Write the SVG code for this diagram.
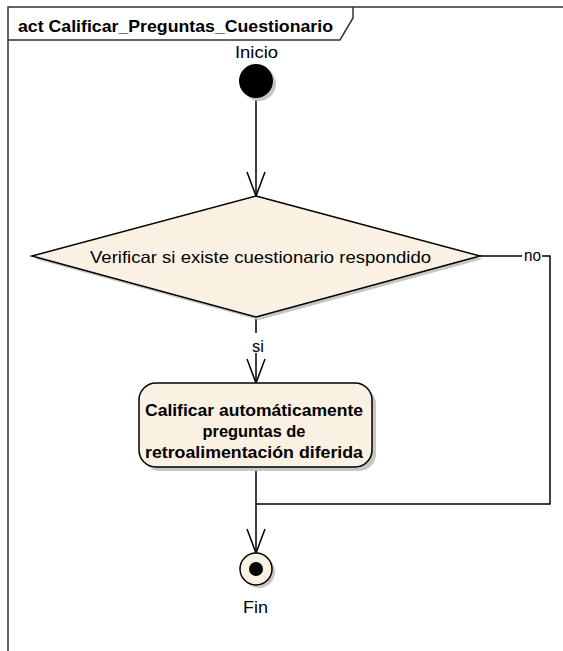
<svg xmlns="http://www.w3.org/2000/svg" width="563" height="651" viewBox="0 0 563 651">
  <style>
    .frame { fill: none; stroke: #333333; stroke-width: 1.5; }
    .edge { fill: none; stroke: #000000; stroke-width: 1.5; }
    .shadow { fill: #c6c6c6; stroke: none; }
    .node { fill: #fbf1e3; stroke: #000000; stroke-width: 1.5; }
    .label-bg { fill: #ffffff; stroke: none; }
    text { font-family: "Liberation Sans", Arial, sans-serif; fill: #000000; }
    .title { font-size: 17px; font-weight: bold; }
    .plain { font-size: 16.5px; }
    .bold { font-size: 17px; font-weight: bold; }
  </style>
  <defs>
    <marker id="open-arrow" viewBox="0 0 24 18" refX="24" refY="9" markerWidth="24" markerHeight="18"
            markerUnits="userSpaceOnUse" orient="auto" overflow="visible">
      <path d="M0,0 L24,9 L0,18" fill="none" stroke="#000000" stroke-width="1.5"/>
    </marker>
  </defs>

  <rect width="563" height="651" fill="#ffffff"/>

  <!-- activity frame with name tab -->
  <g id="frame">
    <path class="frame" d="M8,651 V7 H563"/>
    <path class="frame" d="M8,40 H340 L353,18 V7"/>
    <text class="title" x="18" y="32" textLength="315" lengthAdjust="spacingAndGlyphs">act Calificar_Preguntas_Cuestionario</text>
  </g>

  <!-- control flows -->
  <g id="connectors">
    <path class="edge" d="M256,98 V196" marker-end="url(#open-arrow)"/>
    <path class="edge" d="M256,317 V383" marker-end="url(#open-arrow)"/>
    <path class="edge" d="M256,467 V553" marker-end="url(#open-arrow)"/>
    <path class="edge" d="M480,256 H550 V504 H256"/>
    <rect class="label-bg" x="252" y="333" width="12" height="20"/>
    <text class="plain" x="258" y="352" text-anchor="middle">si</text>
    <rect class="label-bg" x="522" y="248" width="20" height="16"/>
    <text class="plain" x="532.5" y="261" text-anchor="middle" textLength="17" lengthAdjust="spacingAndGlyphs">no</text>
  </g>

  <!-- initial node -->
  <g id="inicio">
    <circle class="shadow" cx="259" cy="84" r="17"/>
    <circle cx="256" cy="81" r="17" fill="#000000"/>
    <text class="plain" x="256.5" y="58" text-anchor="middle" textLength="43" lengthAdjust="spacingAndGlyphs">Inicio</text>
  </g>

  <!-- decision -->
  <g id="verificar">
    <polygon class="shadow" points="259,199 483,259 259,320 35,259"/>
    <polygon class="node" points="256,196 480,256 256,317 32,256"/>
    <text class="plain" x="90" y="263" textLength="341" lengthAdjust="spacingAndGlyphs">Verificar si existe cuestionario respondido</text>
  </g>

  <!-- action -->
  <g id="calificar">
    <rect class="shadow" x="143" y="387" width="233" height="84" rx="17"/>
    <rect class="node" x="139" y="383" width="233" height="84" rx="17"/>
    <text class="bold" x="254" y="416" text-anchor="middle" textLength="218" lengthAdjust="spacingAndGlyphs">Calificar automáticamente</text>
    <text class="bold" x="254" y="437" text-anchor="middle" textLength="103" lengthAdjust="spacingAndGlyphs">preguntas de</text>
    <text class="bold" x="254" y="458" text-anchor="middle" textLength="218" lengthAdjust="spacingAndGlyphs">retroalimentación diferida</text>
  </g>

  <!-- final node -->
  <g id="fin">
    <circle class="shadow" cx="259" cy="572" r="16"/>
    <circle class="node" cx="256" cy="569" r="16"/>
    <circle cx="256" cy="569" r="7" fill="#000000"/>
    <text class="plain" x="255.5" y="613" text-anchor="middle" textLength="25" lengthAdjust="spacingAndGlyphs">Fin</text>
  </g>
</svg>
